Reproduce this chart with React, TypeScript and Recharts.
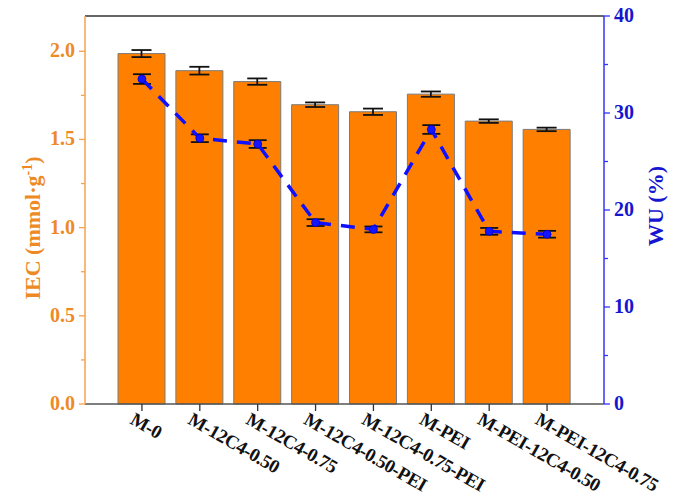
import React from "react";
import { ComposedChart, Bar, Line, XAxis, YAxis, ErrorBar, ReferenceLine } from "recharts";

const categories = [
  "M-0",
  "M-12C4-0.50",
  "M-12C4-0.75",
  "M-12C4-0.50-PEI",
  "M-12C4-0.75-PEI",
  "M-PEI",
  "M-PEI-12C4-0.50",
  "M-PEI-12C4-0.75",
];
const iecValues = [1.987, 1.89, 1.828, 1.697, 1.657, 1.757, 1.604, 1.557];
const iecErrors = [0.02, 0.022, 0.018, 0.013, 0.018, 0.015, 0.01, 0.01];
const wuValues = [33.5, 27.4, 26.8, 18.7, 18.0, 28.3, 17.8, 17.5];
const wuErrors = [0.5, 0.4, 0.4, 0.35, 0.3, 0.45, 0.35, 0.35];
const iecTicks = [0, 0.25, 0.5, 0.75, 1.0, 1.25, 1.5, 1.75, 2.0];
const wuTicks = [0, 5, 10, 15, 20, 25, 30, 35, 40];

const data = categories.map((name, i) => ({
  name,
  iec: iecValues[i],
  iecErr: iecErrors[i],
  wu: wuValues[i],
  wuErr: wuErrors[i],
}));

const FONT = "'Liberation Serif', 'Times New Roman', serif";
const ORANGE_AXIS = "#F7A24E";
const ORANGE_TEXT = "#EE8A26";
const BLUE_AXIS = "#3434FF";
const BLUE_TEXT = "#1616D0";

const LeftTick = (props: any) => {
  const { x, y, payload } = props;
  const v = payload.value;
  const major = Math.abs(v * 2 - Math.round(v * 2)) < 1e-6;
  const ax = x + 10; // tickSize + tickMargin
  return (
    <g>
      <line x1={ax} x2={ax - (major ? 6 : 4)} y1={y} y2={y} stroke={ORANGE_AXIS} strokeWidth={1.3} />
      {major && (
        <text x={x} y={y} dy={6} textAnchor="end" fill={ORANGE_TEXT} fontFamily={FONT} fontWeight="bold" fontSize={20}>
          {v.toFixed(1)}
        </text>
      )}
    </g>
  );
};

const RightTick = (props: any) => {
  const { x, y, payload } = props;
  const v = payload.value;
  const major = v % 10 === 0;
  const ax = x - 10;
  return (
    <g>
      <line x1={ax} x2={ax + (major ? 6 : 4)} y1={y} y2={y} stroke={BLUE_AXIS} strokeWidth={1.3} />
      {major && (
        <text x={x} y={y} dy={6} textAnchor="start" fill={BLUE_TEXT} fontFamily={FONT} fontWeight="bold" fontSize={20}>
          {v}
        </text>
      )}
    </g>
  );
};

const CategoryTick = (props: any) => {
  const { x, y, payload } = props;
  const tx = x - 13;
  const ty = y + 10;
  return (
    <text
      x={tx}
      y={ty}
      transform={`rotate(30, ${tx}, ${ty})`}
      textAnchor="start"
      fill="#111"
      fontFamily={FONT}
      fontWeight="bold"
      fontSize={19}
      letterSpacing={-0.4}
    >
      {payload.value}
    </text>
  );
};

const IecLabel = (props: any) => {
  const vb = props.viewBox || { x: 0, y: 16, width: 85, height: 388 };
  const cx = vb.x + 32;
  const cy = vb.y + vb.height / 2 + 18;
  return (
    <text
      x={cx}
      y={cy}
      dy="0.35em"
      transform={`rotate(-90, ${cx}, ${cy})`}
      textAnchor="middle"
      fill={ORANGE_TEXT}
      fontFamily={FONT}
      fontWeight="bold"
      fontSize={22}
    >
      IEC (mmol·g
      <tspan fontSize={14} dy={-8}>-1</tspan>
      <tspan dy={8}>)</tspan>
    </text>
  );
};

const WuLabel = (props: any) => {
  const vb = props.viewBox || { x: 604, y: 16, width: 79, height: 388 };
  const cx = vb.x + 51;
  const cy = vb.y + vb.height / 2 - 4;
  return (
    <text
      x={cx}
      y={cy}
      dy="0.35em"
      transform={`rotate(-90, ${cx}, ${cy})`}
      textAnchor="middle"
      fill={BLUE_TEXT}
      fontFamily={FONT}
      fontWeight="bold"
      fontSize={22}
    >
      WU (%)
    </text>
  );
};

const WuDot = (props: any) => {
  const { cx, cy } = props;
  if (cx == null || cy == null) return null;
  return <circle cx={cx} cy={cy} r={4} fill="#1414FF" stroke="#0000C8" strokeWidth={0.8} />;
};

export default function App() {
  return (
    <div style={{ position: "absolute", left: 0, top: 0, background: "#fff" }}>
      <ComposedChart width={683} height={498} data={data} margin={{ top: 16, right: 0, bottom: 0, left: 0 }}>
        <XAxis
          dataKey="name"
          height={94}
          interval={0}
          padding={{ left: 28, right: 28 }}
          tickSize={7}
          tickMargin={2}
          axisLine={{ stroke: "#555", strokeWidth: 1.5 }}
          tickLine={{ stroke: "#333", strokeWidth: 1.3 }}
          tick={<CategoryTick />}
        />
        <YAxis
          yAxisId="left"
          width={85}
          domain={[0, 2.2]}
          ticks={iecTicks}
          interval={0}
          tickSize={6}
          tickMargin={4}
          tickLine={false}
          axisLine={{ stroke: ORANGE_AXIS, strokeWidth: 1.5 }}
          tick={<LeftTick />}
          label={<IecLabel />}
        />
        <YAxis
          yAxisId="right"
          orientation="right"
          width={79}
          domain={[0, 40]}
          ticks={wuTicks}
          interval={0}
          tickSize={6}
          tickMargin={4}
          tickLine={false}
          axisLine={{ stroke: BLUE_AXIS, strokeWidth: 1.5 }}
          tick={<RightTick />}
          label={<WuLabel />}
        />
        <ReferenceLine yAxisId="left" y={2.2} stroke="#333" strokeWidth={1.5} />
        <Bar yAxisId="left" dataKey="iec" barSize={47} fill="#FF8000" stroke="#7a7a7a" strokeWidth={1} isAnimationActive={false}>
          <ErrorBar dataKey="iecErr" width={10} stroke="#111" strokeWidth={1.8} />
        </Bar>
        <Line
          yAxisId="right"
          dataKey="wu"
          type="linear"
          stroke="#1010FF"
          strokeWidth={3.5}
          strokeDasharray="14 10"
          dot={<WuDot />}
          activeDot={false}
          isAnimationActive={false}
        >
          <ErrorBar dataKey="wuErr" width={9} stroke="#111" strokeWidth={1.8} />
        </Line>
      </ComposedChart>
    </div>
  );
}
